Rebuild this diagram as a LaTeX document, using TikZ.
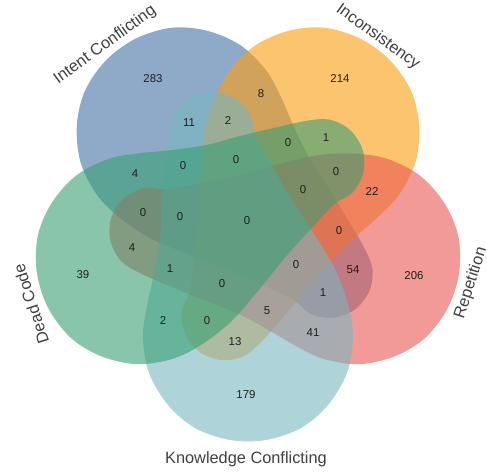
\documentclass[tikz,border=0pt]{standalone}
\usepackage{fontspec}
\setmainfont{Liberation Sans}
\definecolor{icblue}{RGB}{68,113,165}
\definecolor{inorange}{RGB}{252,157,17}
\definecolor{repred}{RGB}{232,87,82}
\definecolor{kcteal}{RGB}{120,183,193}
\definecolor{dcgreen}{RGB}{57,158,115}

\begin{document}
\begin{tikzpicture}[x=0.02cm, y=-0.02cm,
  set/.style={fill opacity=0.6},
  regnum/.style={font=\fontsize{6.5}{7}\selectfont, text=black!88, inner sep=0pt},
  setlabel/.style={font=\fontsize{9.3}{11}\selectfont, text=black!75, inner sep=1pt}]

\useasboundingbox (0,0) rectangle (487,472);

% Sets (one petal, turned round the centre)
\foreach \ang/\col in {216/icblue, 144/inorange, 72/repred, 0/kcteal, 288/dcgreen}
  \fill[\col, set, shift={(248,224)}, rotate=\ang] plot[smooth cycle, tension=0.55] coordinates {
    (18,216) (53,204) (80,181) (99,149) (105,113) (100,80) (87,45) (66,10)
    (42,-27) (22,-62) (8,-88) (2,-110) (-14,-126) (-36,-132) (-58,-126) (-74,-110)
    (-80,-88) (-83,-58) (-86,-22) (-88,15) (-94,50) (-101,82) (-105,113) (-99,149)
    (-80,181) (-53,204) (-18,216)};

% Set names
\node[setlabel, rotate=36] (ic) at (105,45) {Intent Conflicting};
\node[setlabel, rotate=-36] (inc) at (378,37) {Inconsistency};
\node[setlabel, rotate=72] (rep) at (471,283) {Repetition};
\node[setlabel] (kc) at (246,459) {Knowledge Conflicting};
\node[setlabel, rotate=108] (dc) at (31,304) {Dead Code};

% Region counts
\foreach \v/\x/\y [count=\i] in {283/153/79, 214/340/79, 8/261/94, 11/189/123, 2/228/121,
    0/288/143, 1/326/138, 4/135/174, 0/183/166, 0/236/160, 0/336/172, 22/372/192,
    0/143/213, 0/180/217, 0/247/221, 0/303/190, 0/339/231, 4/132/248, 1/170/269,
    0/222/284, 0/296/265, 54/353/270, 1/323/293, 2/163/321, 0/207/321, 5/267/311,
    13/235/342, 41/313/333, 39/83/275, 206/414/276, 179/246/395}
  \node[regnum] (n\i) at (\x,\y) {\v};

\end{tikzpicture}
\end{document}
